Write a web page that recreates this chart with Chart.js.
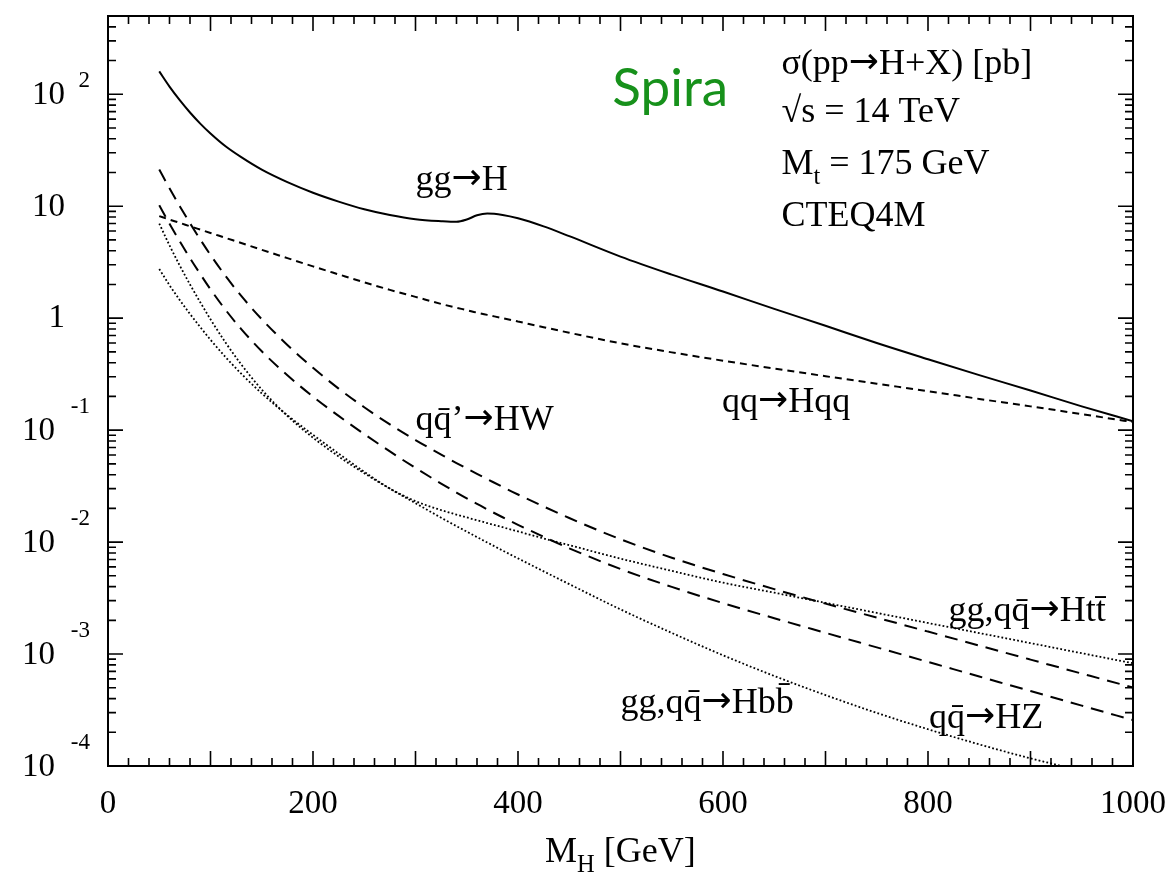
<!DOCTYPE html>
<html>
<head>
<meta charset="utf-8">
<title>σ(pp→H+X) [pb], √s = 14 TeV</title>
<script src="https://cdn.jsdelivr.net/npm/chart.js@4.4.1/dist/chart.umd.min.js"></script>
<style>
  html, body { margin: 0; padding: 0; background: #fff; }
  canvas { display: block; }
</style>
</head>
<body>
<canvas id="xsec" width="1170" height="873"></canvas>
<script>
// Higgs mass points (GeV)
const massGeV = [50, 60, 70, 80, 90, 100, 115, 130, 150, 175, 200, 225, 250, 275, 300, 325, 340, 350, 360, 370, 385, 400, 425, 450, 500, 550, 600, 650, 700, 750, 800, 850, 900, 950, 1000];

// production cross sections in pb, one entry per mass point
const sigGG  = [160, 117, 88.5, 68.7, 54.7, 44.6, 34.1, 27.4, 21.2, 16.4, 13.2, 11.0, 9.4, 8.35, 7.66, 7.35, 7.25, 7.6, 8.3, 8.6, 8.35, 7.8, 6.6, 5.4, 3.55, 2.45, 1.73, 1.21, 0.855, 0.6, 0.43, 0.31, 0.226, 0.163, 0.12];
const sigVBF = [8.15, 7.6, 7.1, 6.62, 6.18, 5.77, 5.2, 4.69, 4.08, 3.44, 2.90, 2.46, 2.09, 1.79, 1.55, 1.34, 1.24, 1.18, 1.12, 1.07, 1.0, 0.933, 0.83, 0.741, 0.596, 0.495, 0.417, 0.355, 0.303, 0.26, 0.223, 0.19, 0.163, 0.139, 0.118];
const sigHW  = [21.3, 14.45, 10.0, 7.05, 5.05, 3.67, 2.36, 1.58, 0.979, 0.577, 0.36, 0.235, 0.16, 0.1125, 0.0815, 0.0604, 0.0508, 0.0454, 0.0406, 0.0365, 0.0311, 0.0266, 0.0208, 0.0164, 0.0106, 0.00725, 0.00519, 0.0038, 0.00282, 0.002115, 0.001587, 0.00119, 0.000892, 0.000669, 0.000502];
const sigHZ  = [10.2, 6.98, 4.86, 3.44, 2.48, 1.81, 1.176, 0.799, 0.506, 0.309, 0.1993, 0.134, 0.0921, 0.0645, 0.0459, 0.0333, 0.0277, 0.0246, 0.02196, 0.0196, 0.01667, 0.01427, 0.01114, 0.0088, 0.00575, 0.00398, 0.00285, 0.00209, 0.001547, 0.001147, 0.00085, 0.00063, 0.000467, 0.000346, 0.000257];
const sigHtt = [2.75, 1.97, 1.45, 1.09, 0.832, 0.641, 0.446, 0.319, 0.213, 0.136, 0.0908, 0.0617, 0.0425, 0.0301, 0.0232, 0.0193, 0.01758, 0.0166, 0.01567, 0.01479, 0.01357, 0.01245, 0.01078, 0.00939, 0.00712, 0.00553, 0.00434, 0.00353, 0.002867, 0.00233, 0.001894, 0.00154, 0.001252, 0.001017, 0.000827];
const sigHbb = [7.0, 4.47, 2.95, 2.0, 1.387, 0.977, 0.6, 0.386, 0.2304, 0.134, 0.0856, 0.0582, 0.0412, 0.03, 0.02226, 0.0165, 0.01388, 0.0124, 0.01108, 0.00992, 0.0084, 0.00715, 0.00548, 0.00421, 0.002506, 0.001545, 0.000975, 0.000637, 0.00043, 0.000298, 0.000213, 0.000156, 0.000117, 0.000091, 0.0000723];

// axis ticks
const xTickLabels = [0, 200, 400, 600, 800, 1000];
const yDecades = [-4, -3, -2, -1, 0, 1, 2];

const SERIF = '"Liberation Serif", "Times New Roman", serif';
const ARROW = '"DejaVu Sans", sans-serif';

function pts(ys) {
  return massGeV.map((m, i) => ({ x: m, y: ys[i] }));
}

function curve(label, ys, dash, width) {
  return {
    label: label,
    data: pts(ys),
    borderColor: '#000',
    borderWidth: width,
    borderDash: dash,
    pointRadius: 0,
    fill: false,
    cubicInterpolationMode: 'monotone'
  };
}

// writes a run of text pieces; sub pieces are smaller and lowered,
// arrows come from a font with a longer glyph
function richText(ctx, parts, x, y, size) {
  let cx = x;
  for (const p of parts) {
    const chunks = p.t.split(/(→)/).filter(c => c !== '');
    for (const c of chunks) {
      let s = size, dy = 0, fam = SERIF;
      if (p.sub) { s = size * 0.68; dy = size * 0.28; }
      if (c === '→') { fam = ARROW; dy -= 1; }
      ctx.font = s + 'px ' + fam;
      ctx.fillText(c, cx, y + dy);
      cx += ctx.measureText(c).width;
    }
  }
}

const framePlugin = {
  id: 'frame',
  afterDraw(chart) {
    const { ctx, chartArea: a, scales: { x, y } } = chart;
    ctx.save();
    ctx.strokeStyle = '#000';
    ctx.fillStyle = '#000';

    // box round the plot
    ctx.lineWidth = 2;
    ctx.strokeRect(a.left, a.top, a.right - a.left, a.bottom - a.top);

    // inward ticks on all four sides
    ctx.lineWidth = 1.6;
    ctx.beginPath();
    for (let m = 0; m <= 1000; m += 20) {
      const px = x.getPixelForValue(m);
      const len = m % 100 === 0 ? 15 : 8;
      ctx.moveTo(px, a.bottom); ctx.lineTo(px, a.bottom - len);
      ctx.moveTo(px, a.top); ctx.lineTo(px, a.top + len);
    }
    for (const e of yDecades) {
      for (let k = 1; k <= 9; k++) {
        const v = k * Math.pow(10, e);
        if (v > y.max * 1.0001) break;
        const py = y.getPixelForValue(v);
        const len = k === 1 ? 15 : 8;
        ctx.moveTo(a.left, py); ctx.lineTo(a.left + len, py);
        ctx.moveTo(a.right, py); ctx.lineTo(a.right - len, py);
      }
    }
    ctx.stroke();

    // mass labels under the axis
    ctx.font = '33px ' + SERIF;
    ctx.textAlign = 'center';
    ctx.textBaseline = 'alphabetic';
    for (const m of xTickLabels) {
      ctx.fillText(String(m), x.getPixelForValue(m), a.bottom + 47);
    }

    // decade labels on the left
    ctx.textBaseline = 'middle';
    ctx.textAlign = 'right';
    for (const e of yDecades) {
      const py = y.getPixelForValue(Math.pow(10, e));
      ctx.font = '33px ' + SERIF;
      if (e === 0) { ctx.fillText('1', 65, py); continue; }
      if (e === 1) { ctx.fillText('10', 65, py + 1); continue; }
      ctx.fillText('10', e > 0 ? 65 : 55, py + 1);
      ctx.font = '23px ' + SERIF;
      ctx.fillText(String(e), 90, py - (e > 0 ? 13 : 23));
    }

    // axis title
    ctx.textAlign = 'left';
    ctx.textBaseline = 'alphabetic';
    richText(ctx, [{ t: 'M' }, { t: 'H', sub: true }, { t: ' [GeV]' }], 545, 862, 36);

    // process labels next to the curves, anchored in data coordinates
    const tags = [
      { parts: [{ t: 'gg→H' }], m: 300, s: 14 },
      { parts: [{ t: 'qq→Hqq' }], m: 599, s: 0.146 },
      { parts: [{ t: 'qq\u0304’→HW' }], m: 300, s: 0.1 },
      { parts: [{ t: 'gg,qq\u0304→Htt\u0304' }], m: 820, s: 0.00197 },
      { parts: [{ t: 'gg,qq\u0304→Hbb\u0304' }], m: 500, s: 3.0e-4 },
      { parts: [{ t: 'qq\u0304→HZ' }], m: 801, s: 2.2e-4 }
    ];
    for (const t of tags) {
      richText(ctx, t.parts, x.getPixelForValue(t.m), y.getPixelForValue(t.s), 36);
    }

    // run conditions block, top right
    const bx = x.getPixelForValue(657);
    richText(ctx, [{ t: 'σ(pp→H+X) [pb]' }], bx, 74, 36);
    richText(ctx, [{ t: '√s = 14 TeV' }], bx, 122, 36);
    richText(ctx, [{ t: 'M' }, { t: 't', sub: true }, { t: ' = 175 GeV' }], bx, 174, 36);
    richText(ctx, [{ t: 'CTEQ4M' }], bx, 226, 36);

    ctx.font = '53px Lato, "Open Sans", sans-serif';
    ctx.fillStyle = '#17911b';
    ctx.fillText('Spira', x.getPixelForValue(492), 106);
    ctx.restore();
  }
};

new Chart(document.getElementById('xsec'), {
  type: 'line',
  data: {
    datasets: [
      curve('gg→H', sigGG, [], 2),
      curve('qq→Hqq', sigVBF, [7, 5], 2),
      curve('qq̄’→HW', sigHW, [13, 8], 2),
      curve('qq̄→HZ', sigHZ, [13, 8], 2),
      curve('gg,qq̄→Htt̄', sigHtt, [1.8, 2.2], 1.8),
      curve('gg,qq̄→Hbb̄', sigHbb, [1.8, 2.2], 1.8)
    ]
  },
  options: {
    responsive: false,
    devicePixelRatio: 1,
    animation: false,
    layout: { padding: { top: 16, right: 37, left: 0, bottom: 0 } },
    plugins: {
      legend: { display: false },
      tooltip: { enabled: false }
    },
    scales: {
      x: {
        type: 'linear',
        min: 0,
        max: 1000,
        grid: { display: false, drawTicks: false },
        border: { display: false },
        ticks: { display: false },
        afterFit: s => { s.height = 107; }
      },
      y: {
        type: 'logarithmic',
        min: 1e-4,
        max: 500,
        grid: { display: false, drawTicks: false },
        border: { display: false },
        ticks: { display: false },
        afterFit: s => { s.width = 108; }
      }
    }
  },
  plugins: [framePlugin]
});
</script>
</body>
</html>
